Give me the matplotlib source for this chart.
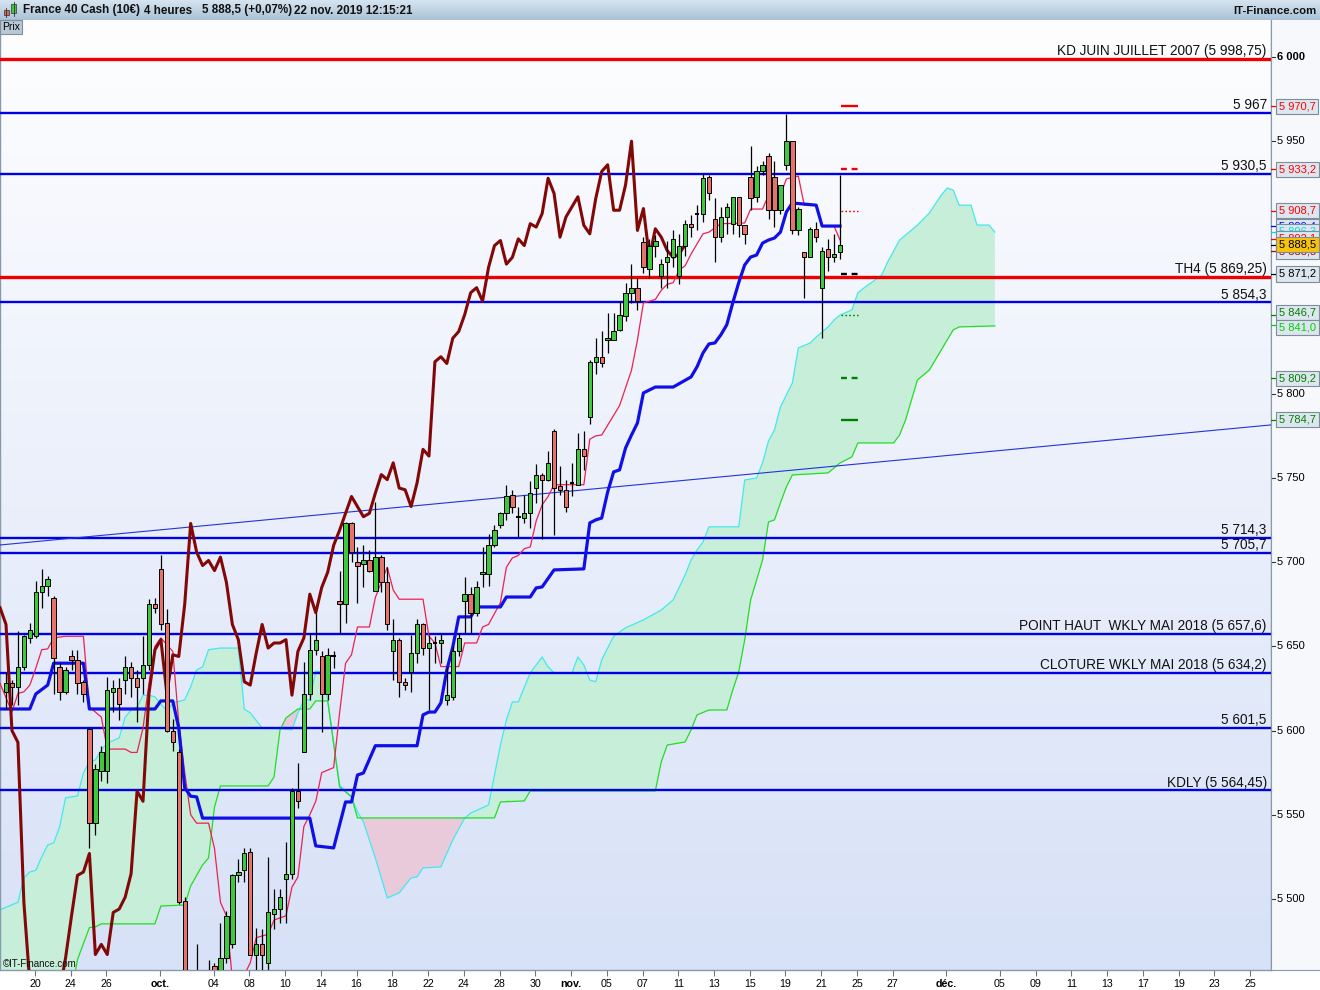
import numpy as np
import matplotlib
matplotlib.use('Agg')
import matplotlib.pyplot as plt
from matplotlib.patches import Rectangle
from matplotlib.colors import LinearSegmentedColormap

plt.rcParams['font.family'] = ['Liberation Sans', 'DejaVu Sans']

# ---------------- data ----------------
opens = [5623,5628,5626,5638,5655,5656,5682,5686,5679,5638,5623,5644,5642,5629,5601,5545,5576,5576,5623,5625,
         5630,5638,5631,5631,5639,5675,5696,5664,5600,5587,5499,5450,5410,5440,5420,5460,5445,5465,5473,5514,
         5517,5528,5467,5473,5462,5491,5494,5512,5515,5564,5587,5622,5648,5644,5622,5644,5677,5675,5723,5700,
         5699,5701,5683,5703,5688,5647,5654,5629,5635,5646,5663,5649,5652,5652,5618,5620,5647,5677,5681,5670,
         5693,5693,5710,5722,5729,5740,5727,5726,5729,5744,5752,5749,5778,5745,5743,5747,5746,5767,5786,5819,
         5822,5832,5832,5838,5846,5860,5863,5890,5874,5888,5870,5878,5881,5870,5888,5901,5907,5907,5929,5904,
         5893,5905,5901,5917,5900,5929,5917,5932,5941,5929,5909,5936,5950,5897,5884,5881,5898,5863,5886,5881,
         5884]
highs = [5634,5630,5659,5657,5664,5689,5696,5692,5680,5640,5638,5648,5648,5630,5602,5580,5591,5632,5630,5631,
         5644,5641,5636,5656,5678,5679,5704,5672,5607,5589,5501,5455,5473,5450,5464,5462,5486,5493,5515,5524,
         5530,5530,5483,5482,5525,5506,5506,5534,5566,5581,5641,5658,5670,5647,5649,5647,5695,5724,5724,5709,
         5710,5707,5736,5704,5697,5666,5655,5631,5657,5666,5664,5657,5656,5658,5638,5650,5658,5691,5685,5689,
         5709,5717,5722,5730,5746,5743,5733,5740,5748,5758,5753,5766,5779,5757,5749,5759,5777,5778,5820,5833,
         5837,5848,5848,5855,5866,5877,5869,5893,5892,5894,5880,5891,5897,5895,5903,5906,5912,5931,5930,5916,
         5911,5913,5917,5917,5900,5947,5935,5938,5943,5938,5924,5966,5950,5911,5884,5899,5902,5887,5892,5895,
         5930]
lows = [5613,5615,5615,5636,5652,5655,5673,5680,5622,5618,5622,5636,5622,5617,5530,5538,5570,5569,5611,5606,
        5622,5620,5605,5622,5636,5670,5660,5599,5588,5497,5440,5395,5385,5400,5410,5430,5440,5462,5471,5510,
        5510,5467,5455,5455,5455,5482,5486,5486,5512,5554,5587,5618,5645,5599,5618,5637,5658,5664,5700,5676,
        5685,5694,5683,5682,5660,5630,5620,5624,5623,5640,5645,5612,5640,5640,5615,5618,5644,5658,5658,5668,
        5685,5686,5709,5720,5725,5729,5715,5723,5720,5735,5714,5748,5716,5740,5730,5739,5746,5755,5782,5812,
        5816,5824,5832,5837,5843,5854,5850,5872,5869,5881,5863,5863,5875,5865,5882,5893,5897,5902,5915,5878,
        5890,5895,5895,5893,5889,5909,5914,5930,5904,5899,5907,5933,5895,5894,5857,5881,5890,5833,5873,5878,
        5880]
closes = [5628,5626,5638,5656,5660,5682,5686,5690,5643,5623,5636,5642,5628,5622,5545,5577,5587,5624,5625,5616,
          5638,5631,5626,5639,5675,5673,5663,5600,5593,5498,5450,5410,5440,5420,5450,5445,5465,5490,5514,5516,
          5527,5467,5473,5467,5492,5494,5501,5515,5564,5558,5622,5648,5654,5622,5645,5644,5675,5723,5706,5698,
          5701,5695,5703,5688,5663,5654,5629,5627,5646,5663,5649,5652,5652,5654,5621,5647,5655,5681,5670,5685,
          5694,5710,5719,5729,5739,5733,5727,5729,5741,5752,5749,5759,5744,5743,5733,5747,5767,5763,5819,5822,
          5818,5833,5837,5847,5860,5863,5855,5875,5888,5891,5877,5881,5892,5888,5901,5899,5907,5928,5919,5893,
          5905,5911,5917,5900,5895,5916,5932,5936,5909,5909,5924,5950,5897,5910,5881,5898,5893,5885,5881,5883,
          5888.5]

tenkan_n = [-1,1,2,3,4,5,6,7,8,10,13,14,16,17,20,21,22,23,24,25,26,27,28,29,30,31,32,34,35,36,
            37,38,40,41,42,44,45,47,48,49,50,51,52,53,55,56,57,58,59,61,62,63,64,65,66,70,71,72,73,76,
            77,79,80,81,83,84,85,86,87,88,89,90,91,92,97,98,99,100,103,105,106,107,109,110,111,112,113,114,115,116,
            117,118,119,120,124,125,127,128,130,131,133,134,136,137,139,140]
tenkan_p = [5628,5611,5622,5623,5627,5637,5648,5648.5,5655,5656,5656,5614,5608,5589,5589,5587,5587,5601.5,5628,5650,
            5655,5651,5647,5605,5575,5550,5545,5545,5530,5498,5490,5452,5455,5462,5477,5479,5487.5,5490,5507,5513,
            5543,5550,5558,5575,5578,5610.5,5640,5645,5661.5,5661.5,5679,5688,5697,5683.5,5678,5678,5656,5652,5638,5638,
            5652,5652,5661.5,5663,5676,5697,5702.5,5704,5708,5709,5724.5,5734,5739,5746,5746,5773,5775,5775.5,5793,5814,
            5832,5854,5856,5861.5,5865,5866,5873.5,5876,5883,5889,5895,5896,5898.5,5901,5901.4,5909.7,5909.7,5918,5918,5927.6,
            5929.3,5912,5912,5899.6,5899.6,5891.3]

kijun_n = [-1,4,5,7,8,13,14,25,26,28,29,30,31,32,33,51,52,55,56,57,58,59,60,62,69,70,71,72,73,74,
           75,76,78,79,83,84,88,89,90,92,97,98,99,100,101,102,103,104,105,106,107,109,112,115,116,117,118,119,120,121,
           122,123,124,125,126,127,128,129,130,131,132,136,137,140]
kijun_p = [5612.8,5612.8,5621.7,5627,5640,5640,5612.8,5612.8,5617.6,5617.6,5601.5,5566,5561,5560.6,5548,5548,5531.5,5530.3,5544,5557.6,
           5557.6,5573.6,5574.8,5591,5591,5609.3,5611,5611,5616.4,5636,5649.6,5667.5,5667.5,5673.4,5673.4,5679.3,5679.3,5684.7,5685.3,5695.4,
           5696,5723.3,5725.1,5726.2,5741.7,5753.6,5754.8,5767.8,5775.5,5782.7,5800.5,5804,5804,5810,5816,5824.2,5829.6,5830.2,5835,5841,
           5854,5866,5876.5,5881.2,5882.4,5889.5,5891.3,5892.5,5896,5908,5913.3,5912,5899.6,5899.6]

spanA_n = [-1,2,3,4,5,6,7,8,9,10,12,13,14,15,16,17,19,20,21,22,23,24,25,27,28,30,31,32,33,34,
           36,39,40,41,43,46,48,49,50,51,52,53,54,56,58,59,60,62,64,66,68,69,70,73,75,77,78,81,82,83,
           84,85,86,88,90,91,92,95,96,97,98,99,100,102,104,107,110,112,114,115,116,117,118,123,124,126,127,128,129,130,
           132,133,135,136,138,139,140,142,143,144,147,148,150,153,155,157,158,159,160,162,163,165,166]
spanA_p = [5493.5,5498,5512.5,5516,5517,5525,5532,5533.3,5542.8,5560,5561.2,5574.8,5581.4,5582.5,5588.5,5592.6,5595.6,5608,5612.2,5614,
           5621,5621,5620,5611.6,5616.4,5618.2,5626,5636,5637.8,5648,5649,5649,5612.8,5610.5,5601.5,5601,5600.4,5610.5,5618.2,5618.2,
           5635.4,5634.8,5618.2,5567.7,5560.6,5551.7,5545.7,5524.3,5500.6,5503.6,5512.5,5513.1,5518.4,5519,5535,5548,5551,5555.8,5573.6,5591.4,
           5606.3,5617,5617,5634.2,5643.7,5637.8,5634.2,5634.2,5643.7,5639,5630,5629,5642,5656,5661,5665.7,5671.6,5677.6,5692.4,5701.3,
           5707.2,5712,5721,5721,5748.8,5750,5759,5772,5778.5,5792.2,5806.4,5827.2,5830.2,5833.7,5839.7,5843.8,5846.8,5849.8,5860,5862.8,
           5870.5,5878.3,5891.3,5900.2,5907.4,5918,5922.2,5921,5912,5912,5900.2,5900.2,5896]

spanB_n = [-1,11,12,14,15,16,25,26,30,31,33,34,35,36,44,45,46,47,49,51,
           52,54,56,58,59,82,83,87,88,109,110,111,114,115,116,118,121,122,123,124,
           125,126,127,128,129,130,131,132,138,140,142,143,149,150,151,152,153,155,157,159,160,166]
spanB_p = [5440,5445,5464,5483,5483.4,5485.2,5485.2,5495.8,5496.4,5507.7,5520.2,5524.3,5554.6,5567.1,5567.1,5572.4,5600.4,5607.5,5612.8,5612.8,
           5617.6,5617.6,5566.5,5560.6,5548.1,5548.1,5557.6,5558.2,5564.1,5564.1,5581.4,5591.4,5593.2,5600.4,5609.3,5612.2,5612.2,5624.1,5634.8,5653.8,
           5677.6,5689.4,5701.3,5723.9,5725.1,5735.2,5744.7,5751.8,5753,5758.9,5762.5,5770.8,5770.8,5775.5,5784.4,5796.3,5808.2,5814.1,5826,5837.9,5839.7,5840.3]

chikou_shift = 26

blue_levels = [5967, 5930.5, 5854.3, 5714.3, 5705.7, 5657.6, 5634.2, 5601.5, 5564.45]
blue_labels = ['5 967', '5 930,5', '5 854,3', '5 714,3', '5 705,7',
               'POINT HAUT  WKLY MAI 2018 (5 657,6)', 'CLOTURE WKLY MAI 2018 (5 634,2)',
               '5 601,5', 'KDLY (5 564,45)']
red_levels = [5998.75, 5869.25]
red_labels = ['KD JUIN JUILLET 2007 (5 998,75)', 'TH4 (5 869,25)']

trend_n = [-1.0, 212.35]
trend_p = [5710.2, 5781.5]

pivot_vals = [5970.7, 5933.2, 5908.7, 5871.2, 5846.7, 5809.2, 5784.7]
pivot_cols = ['#ee0000', '#ee0000', '#ee0000', '#000000', '#008000', '#008000', '#008000']
pivot_styles = ['solid', 'dashed', 'dotted', 'dashed', 'dotted', 'dashed', 'solid']

axis_ticks = [6000, 5950, 5800, 5750, 5700, 5650, 5600, 5550, 5500]
axis_tick_labels = ['6 000', '5 950', '5 800', '5 750', '5 700', '5 650', '5 600', '5 550', '5 500']

tag_vals = [5970.7, 5933.2, 5908.7, 5899.4, 5896.3, 5892.1, 5884.5, 5888.5, 5871.2, 5846.7, 5841.0, 5809.2, 5784.7]
tag_text = ['5 970,7', '5 933,2', '5 908,7', '5 899,4', '5 896,3', '5 892,1', '5 888,5', '5 888,5',
            '5 871,2', '5 846,7', '5 841,0', '5 809,2', '5 784,7']
tag_cols = ['#ff0000', '#ff0000', '#ff0000', '#0000ff', '#00dede', '#ff0000', '#aa0000', '#000000',
            '#000000', '#008000', '#00d000', '#008000', '#008000']

tick_days = [0, 2, 4, 7, 10, 12, 14, 16, 18, 20, 22, 24, 26, 28, 30, 32, 34, 36, 38, 40, 42, 44, 46, 48,
             51, 54, 56, 58, 60, 62, 64, 66, 68]
tick_labels = ['20', '24', '26', 'oct.', '04', '08', '10', '14', '16', '18', '22', '24', '28', '30', 'nov.',
               '05', '07', '11', '13', '15', '19', '21', '25', '27', 'déc.', '05', '09', '11', '13', '17',
               '19', '23', '25']
candles_per_day = 3

# ---------------- figure ----------------
W, H = 1320, 990
fig = plt.figure(figsize=(W / 100, H / 100), dpi=100)
fig.patch.set_facecolor('white')

X0, X1 = -1.007, 212.35
Y0, Y1 = 5457.8, 6021.97
px_per_pt = 950 / (Y1 - Y0)

ax = fig.add_axes([0, 20 / H, 1271 / W, 950 / H])
bg = LinearSegmentedColormap.from_list('bg', ['#fefeff', '#d7e1f7'])
ax.imshow(np.linspace(0, 1, 256).reshape(-1, 1), cmap=bg, extent=[X0, X1, Y0, Y1],
          aspect='auto', origin='upper', zorder=0)

# cloud
grid = np.arange(-1, 167)
a = np.interp(grid, spanA_n, spanA_p)
b = np.interp(grid, spanB_n, spanB_p)
ax.fill_between(grid, a, b, where=a >= b, interpolate=True, color='#c6eed8', lw=0, zorder=1)
ax.fill_between(grid, a, b, where=a < b, interpolate=True, color='#e8cadb', lw=0, zorder=1)
ax.plot(spanA_n, spanA_p, color='#44e8f0', lw=0.9, zorder=2)
ax.plot(spanB_n, spanB_p, color='#22dd22', lw=0.9, zorder=2)

# horizontal levels
for v in blue_levels:
    ax.axhline(v, color='#0000e6', lw=1.7, zorder=3)
for v in red_levels:
    ax.axhline(v, color='#ee0000', lw=2.4, zorder=3)
ax.plot(trend_n, trend_p, color='#2233dd', lw=0.8, zorder=3)

for v, t in list(zip(blue_levels, blue_labels)) + list(zip(red_levels, red_labels)):
    ax.annotate(t, xy=(1, v), xycoords=('axes fraction', 'data'), xytext=(-3, 0.6),
                textcoords='offset points', ha='right', va='bottom', fontsize=9.8,
                color='#111111', zorder=4)

# ichimoku lines
ax.plot(tenkan_n, tenkan_p, color='#ee2050', lw=0.9, zorder=4)
ax.plot(kijun_n, kijun_p, color='#1010e6', lw=2.3, zorder=4, solid_joinstyle='round')
n_all = np.arange(len(closes))
ax.plot(n_all[25:] - chikou_shift, np.array(closes[25:]), color='#820808', lw=2.2, zorder=4,
        solid_joinstyle='round')

# candles
for i, (o, h, l, c) in enumerate(zip(opens, highs, lows, closes)):
    ax.vlines(i, l, h, color='black', lw=0.9, zorder=5)
    if abs(c - o) < 0.6:
        ax.hlines(c, i - 0.38, i + 0.38, color='black', lw=1.4, zorder=6)
    else:
        col = '#3ec83e' if c > o else '#e6736b'
        ax.add_patch(Rectangle((i - 0.37, min(o, c)), 0.74, abs(c - o), facecolor=col,
                               edgecolor='black', lw=0.7, zorder=6))

# pivot marks
for v, col, st in zip(pivot_vals, pivot_cols, pivot_styles):
    lw = 1.0 if st == 'dotted' else 1.7
    ls = {'solid': '-', 'dashed': (0, (2.5, 2.0)), 'dotted': (0, (1.2, 1.6))}[st]
    ax.hlines(v, 140.1, 143.0, color=col, lw=lw, linestyles=[ls], zorder=6)

ax.set_xlim(X0, X1)
ax.set_ylim(Y0, Y1)
ax.set_yticks([])
tick_pos = [candles_per_day * d + 4.85 for d in tick_days]
ax.set_xticks(tick_pos)
ax.set_xticklabels(tick_labels, fontsize=7.7)
for lab in ax.get_xticklabels():
    if lab.get_text() in ('oct.', 'nov.', 'déc.'):
        lab.set_fontweight('bold')
ax.tick_params(axis='x', direction='out', length=4, width=0.8, color='#667788', pad=2.5)
for s in ['left', 'right', 'bottom']:
    ax.spines[s].set_color('#8899aa')
    ax.spines[s].set_linewidth(1.0)
ax.spines['top'].set_visible(False)

# right price panel
rax = fig.add_axes([1271 / W, 20 / H, 49 / W, 950 / H])
rax.set_facecolor('#f6f8fb')
rax.set_xlim(0, 49)
rax.set_ylim(Y0, Y1)
rax.set_xticks([])
rax.set_yticks([])
for s in rax.spines.values():
    s.set_visible(False)
rax.spines['left'].set_visible(True)
rax.spines['left'].set_color('#8899aa')
rax.spines['bottom'].set_visible(True)
rax.spines['bottom'].set_color('#8899aa')

for v, t in zip(axis_ticks, axis_tick_labels):
    rax.plot([0, 4], [v, v], color='#333333', lw=0.8, zorder=2)
    rax.text(6, v, t, fontsize=8, va='center', ha='left',
             fontweight='bold' if v == 6000 else 'normal', zorder=2)
# small pixel nudges so the two green tags sit one above the other, as in the original
tag_nudge_px = {9: 2.5, 10: -2.5}
order = [0, 1, 2, 3, 4, 5, 6, 8, 9, 10, 11, 12, 7]
for z, k in enumerate(order):
    v, t, col = tag_vals[k], tag_text[k], tag_cols[k]
    yv = v + tag_nudge_px.get(k, 0) / px_per_pt
    fc = '#f7c20a' if k == 7 else '#dde6ef'
    rax.plot([0, 5], [v, v], color=col, lw=0.9, zorder=3 + z)
    rax.text(8, yv, t, fontsize=8, va='center', ha='left', color=col, zorder=3 + z,
             bbox=dict(boxstyle='square,pad=0.24', facecolor=fc, edgecolor='#7d8d9c', lw=0.8))

# header
hax = fig.add_axes([0, 1 - 20 / H, 1, 20 / H])
hcm = LinearSegmentedColormap.from_list('hd', ['#d6e4ef', '#a9c3d7'])
hax.imshow(np.linspace(0, 1, 64).reshape(-1, 1), cmap=hcm, extent=[0, W, 20, 0], aspect='auto', origin='upper')
hax.set_xlim(0, W)
hax.set_ylim(20, 0)
hax.axis('off')
hax.add_patch(Rectangle((3.5, 10), 5, 5, facecolor='#e06060', edgecolor='#333333', lw=0.5))
hax.plot([6, 6], [8, 17], color='#333333', lw=0.6)
hax.add_patch(Rectangle((11, 4), 5, 9, facecolor='#40c840', edgecolor='#333333', lw=0.5))
hax.plot([13.5, 13.5], [2, 16], color='#333333', lw=0.6)
hdr = [(23, 'France 40 Cash (10€)'), (144, '4 heures'), (202, '5 888,5 (+0,07%)'), (294, '22 nov. 2019 12:15:21')]
for x, t in hdr:
    hax.text(x, 10.5, t, fontsize=8.4, fontweight='bold', va='center', ha='left', color='#111111')
hax.text(1317, 10.5, 'IT-Finance.com', fontsize=8.2, fontweight='bold', va='center', ha='right', color='#111111')
hax.axhline(19.6, color='#8899aa', lw=0.8)

fig.text(2 / W, 1 - 27 / H, 'Prix', fontsize=7.5, va='center', ha='left',
         bbox=dict(boxstyle='square,pad=0.2', facecolor='#b8c8d6', edgecolor='#7f8f9f', lw=0.8))
fig.text(3 / W, 1 - 964 / H, '©IT-Finance.com', fontsize=7, va='center', ha='left', color='#111111')

fig.savefig('out.png', dpi=100)
